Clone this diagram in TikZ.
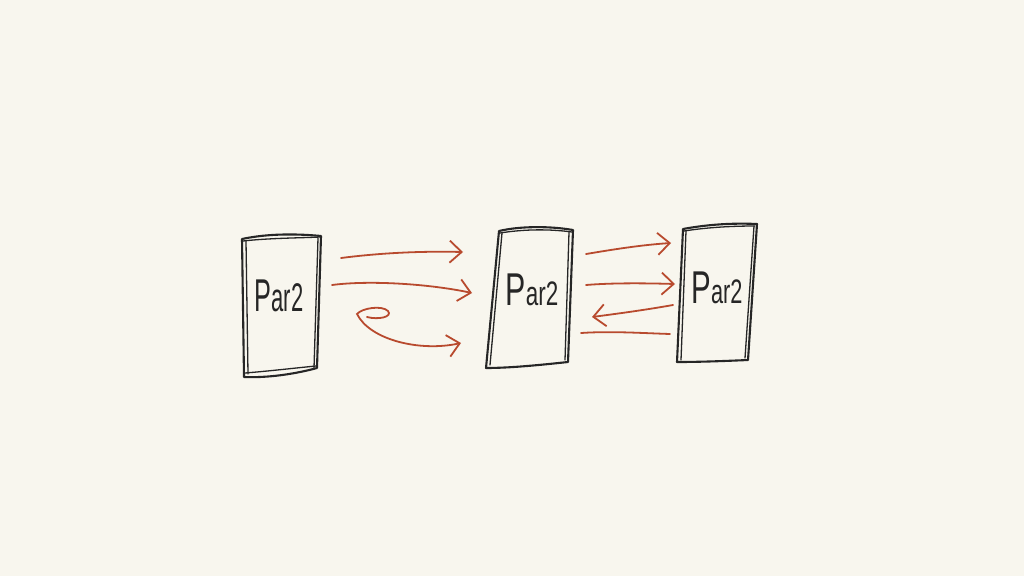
\documentclass[tikz,border=0pt]{standalone}
\usepackage{fontspec}
\setmainfont{Liberation Sans}
\usetikzlibrary{arrows.meta}
\definecolor{paper}{HTML}{F8F6EE}
\definecolor{ink}{HTML}{262626}
\definecolor{redink}{HTML}{B84A2E}
\tikzset{
  boxline/.style={draw=ink, line width=2.1pt, line join=round, line cap=round},
  boxline2/.style={draw=ink, line width=1.3pt, line join=round, line cap=round},
  conn/.style={draw=redink, line width=1.8pt, line cap=round, -{Straight Barb[length=12pt,width=22pt,line width=1.8pt]}},
  plainconn/.style={draw=redink, line width=1.8pt, line cap=round},
  lbl/.style={text=ink, inner sep=0pt}
}
\newcommand{\hwtext}[2]{\scalebox{#2}[1]{\fontsize{46}{46}\selectfont P\fontsize{#1}{#1}\selectfont ar2}}
\begin{document}
\begin{tikzpicture}[x=1pt,y=-1pt]
\fill[paper] (0,0) rectangle (1024,576);
\useasboundingbox (0,0) rectangle (1024,576);

% Box 1
\draw[boxline] (242,239) .. controls (270,233) and (300,234) .. (321,236) -- (317,368) .. controls (295,374) and (268,378) .. (244,377) -- cycle;
\draw[boxline2] (246,241) -- (248,374);
\draw[boxline2] (318,238) -- (314,368);
\draw[boxline2] (243,241) .. controls (270,238) and (300,238) .. (320,237);
\draw[boxline2] (245,373) .. controls (270,371) and (295,368) .. (316,366);
\node[lbl] (b1) at (279,296) {\hwtext{40}{0.55}};

% Box 2
\draw[boxline] (499,231) .. controls (520,226) and (550,226) .. (573,230) -- (568,362) .. controls (540,365) and (510,368) .. (486,368) -- cycle;
\draw[boxline2] (502,233) -- (490,365);
\draw[boxline2] (569,232) -- (565,360);
\draw[boxline2] (500,233) .. controls (525,229) and (550,229) .. (572,232);
\node[lbl] (b2) at (532,290) {\hwtext{34}{0.66}};

% Box 3
\draw[boxline] (683,229) .. controls (710,224) and (735,223) .. (757,224) -- (748,360) .. controls (725,361) and (700,362) .. (677,362) -- cycle;
\draw[boxline2] (686,231) -- (681,360);
\draw[boxline2] (754,226) -- (745,358);
\draw[boxline2] (684,231) .. controls (710,227) and (735,226) .. (755,226);
\node[lbl] (b3) at (717,288) {\hwtext{34}{0.64}};

% connector end points
\coordinate (a1s) at (341,258);
\coordinate (a1e) at (463,252);
\coordinate (a2s) at (332,285);
\coordinate (a2e) at (472,293);
\coordinate (a3s) at (367,317);
\coordinate (a3e) at (461,343);
\coordinate (a4s) at (586,254);
\coordinate (a4e) at (671,243);
\coordinate (a5s) at (586,285);
\coordinate (a5e) at (675,284);
\coordinate (a6s) at (673,305);
\coordinate (a6e) at (592,317);
\coordinate (a7s) at (581,333);
\coordinate (a7e) at (670,334);

\draw[conn] (a1s) .. controls (380,253) and (420,251) .. (a1e);
\draw[conn] (a2s) .. controls (370,280) and (430,284) .. (a2e);
\draw[conn] (a3s) .. controls (378,320) and (393,317) .. (388,311) .. controls (382,305) and (362,308) .. (357,314) .. controls (370,340) and (420,352) .. (a3e);
\draw[conn] (a4s) .. controls (610,250) and (640,245) .. (a4e);
\draw[conn] (a5s) .. controls (610,283) and (640,283) .. (a5e);
\draw[conn] (a6s) .. controls (645,310) and (615,314) .. (a6e);
\draw[plainconn] (a7s) .. controls (610,331) and (640,333) .. (a7e);
\end{tikzpicture}
\end{document}
